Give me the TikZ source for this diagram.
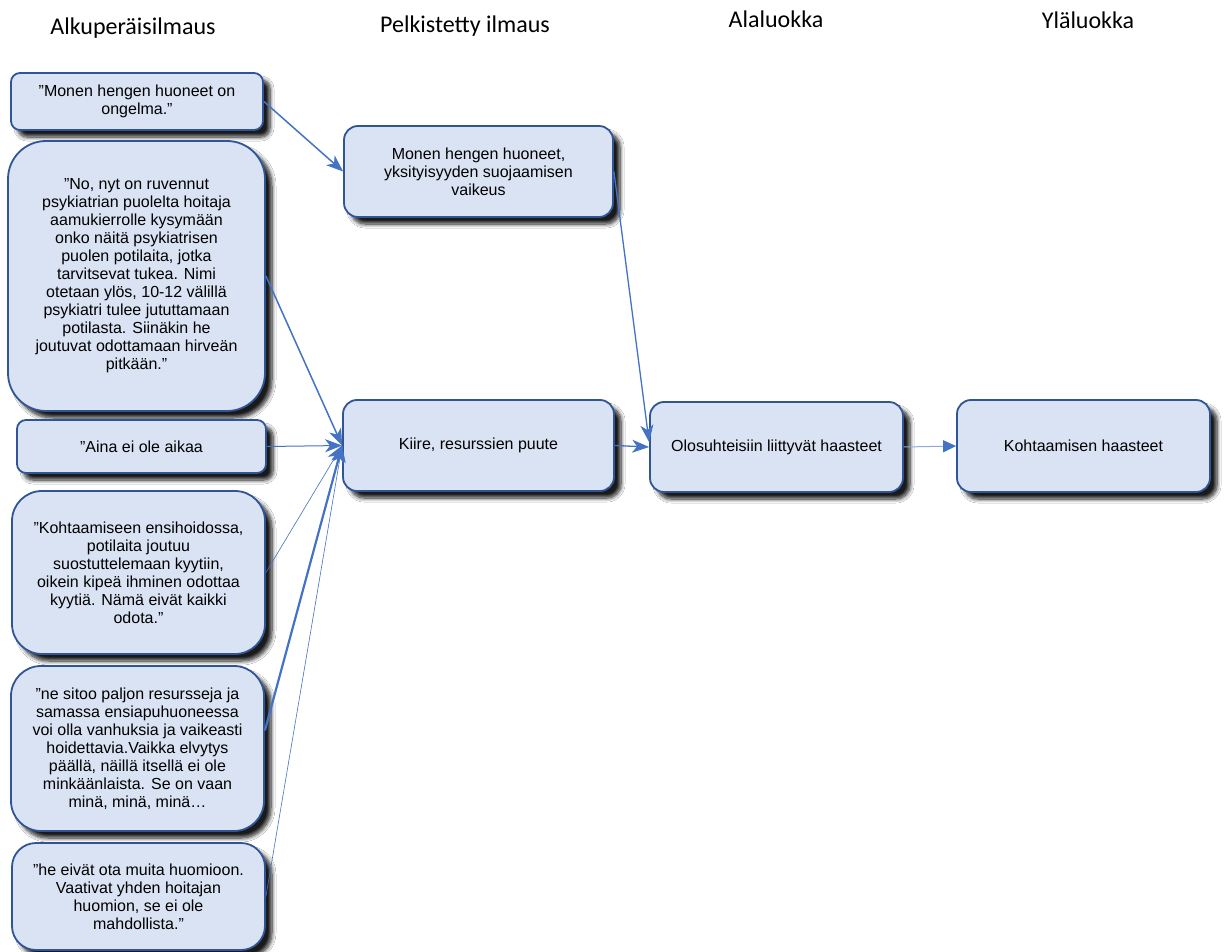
\documentclass[tikz,border=0pt]{standalone}
\usepackage{fontspec}
\setmainfont{Liberation Sans}
\newfontfamily\headfont{Carlito}
\usetikzlibrary{arrows.meta,shadows.blur,calc}

\definecolor{boxfill}{HTML}{DAE3F3}
\definecolor{boxline}{HTML}{2F5597}
\definecolor{arrowblue}{HTML}{4472C4}
\definecolor{paleblue}{HTML}{8FAADC}

\begin{document}
\begin{tikzpicture}[x=1pt,y=-1pt,
  box/.style={draw=boxline, line width=1.8pt, fill=boxfill, align=center,
    font=\fontsize{16}{18}\selectfont, inner sep=0pt,
    blur shadow={shadow xshift=7pt, shadow yshift=-7pt,
      shadow blur radius=4pt, shadow blur steps=8, shadow opacity=90}},
  head/.style={font=\headfont\fontsize{24}{28}\selectfont, anchor=base},
  conn/.style={draw=arrowblue, -{Stealth[length=17pt,width=13pt,inset=5pt,line width=0.8pt]}},
  tri/.style={draw=paleblue, line width=1pt, -{Triangle[length=13pt,width=12pt,color=arrowblue]}}
]
\useasboundingbox (0,0) rectangle (1224,952);
\fill[white] (0,0) rectangle (1224,952);

% column titles
\node[head] (h1) at (133,35) {Alkuperäisilmaus};
\node[head] (h2) at (465,33) {Pelkistetty ilmaus};
\node[head] (h3) at (776,28) {Alaluokka};
\node[head] (h4) at (1088,29) {Yläluokka};

% original quotes
\node[box, rounded corners=9pt, minimum width=252pt, minimum height=57pt] (q1) at (137,101.5)
  {”Monen hengen huoneet on\\ongelma.”};
\node[box, rounded corners=38pt, minimum width=257pt, minimum height=270pt] (q2) at (136.5,276)
  {”No, nyt on ruvennut\\psykiatrian puolelta hoitaja\\aamukierrolle kysymään\\onko näitä psykiatrisen\\puolen potilaita, jotka\\tarvitsevat tukea. Nimi\\otetaan ylös, 10-12 välillä\\psykiatri tulee jututtamaan\\potilasta. Siinäkin he\\joutuvat odottamaan hirveän\\pitkään.”};
\node[box, rounded corners=9pt, minimum width=249pt, minimum height=53pt] (q3) at (141.5,446.5)
  {”Aina ei ole aikaa};
\node[box, rounded corners=30pt, minimum width=253pt, minimum height=163pt] (q4) at (138.5,572.5)
  {”Kohtaamiseen ensihoidossa,\\potilaita joutuu\\suostuttelemaan kyytiin,\\oikein kipeä ihminen odottaa\\kyytiä. Nämä eivät kaikki\\odota.”};
\node[box, rounded corners=30pt, minimum width=253pt, minimum height=165pt] (q5) at (137.5,748.5)
  {”ne sitoo paljon resursseja ja\\samassa ensiapuhuoneessa\\voi olla vanhuksia ja vaikeasti\\hoidettavia.Vaikka elvytys\\päällä, näillä itsellä ei ole\\minkäänlaista. Se on vaan\\minä, minä, minä…};
\node[box, rounded corners=24pt, minimum width=253pt, minimum height=107pt] (q6) at (138.5,896.5)
  {”he eivät ota muita huomioon.\\Vaativat yhden hoitajan\\huomion, se ei ole\\mahdollista.”};

% reduced expressions
\node[box, rounded corners=14pt, minimum width=269pt, minimum height=91pt] (p1) at (478.5,171.5)
  {Monen hengen huoneet,\\yksityisyyden suojaamisen\\vaikeus};
\node[box, rounded corners=14pt, minimum width=271pt, minimum height=91pt] (p2) at (478.5,445.5)
  {Kiire, resurssien puute};

% sub- and main category
\node[box, rounded corners=14pt, minimum width=253pt, minimum height=90pt] (a1) at (776.5,447)
  {Olosuhteisiin liittyvät haasteet};
\node[box, rounded corners=14pt, minimum width=253pt, minimum height=92pt] (y1) at (1083.5,446)
  {Kohtaamisen haasteet};

% connectors
\draw[conn, line width=1.5pt] (q1.east) -- (p1.west);
\draw[conn, line width=1.5pt] (q2.east) -- (p2.west);
\draw[conn, line width=1pt] (q3.east) -- (p2.west);
\draw[conn, line width=0.6pt] (q4.east) -- (p2.west);
\draw[conn, line width=2.2pt] ($(q5.east)+(0,-18)$) -- (p2.west);
\draw[conn, line width=0.6pt] (q6.east) -- (p2.west);
\draw[conn, line width=1.3pt] (p1.east) -- ($(a1.west)+(0,-5)$);
\draw[conn, line width=1.3pt] (p2.east) -- (a1.west);
\draw[tri] (a1.east) -- (y1.west);
\end{tikzpicture}
\end{document}
